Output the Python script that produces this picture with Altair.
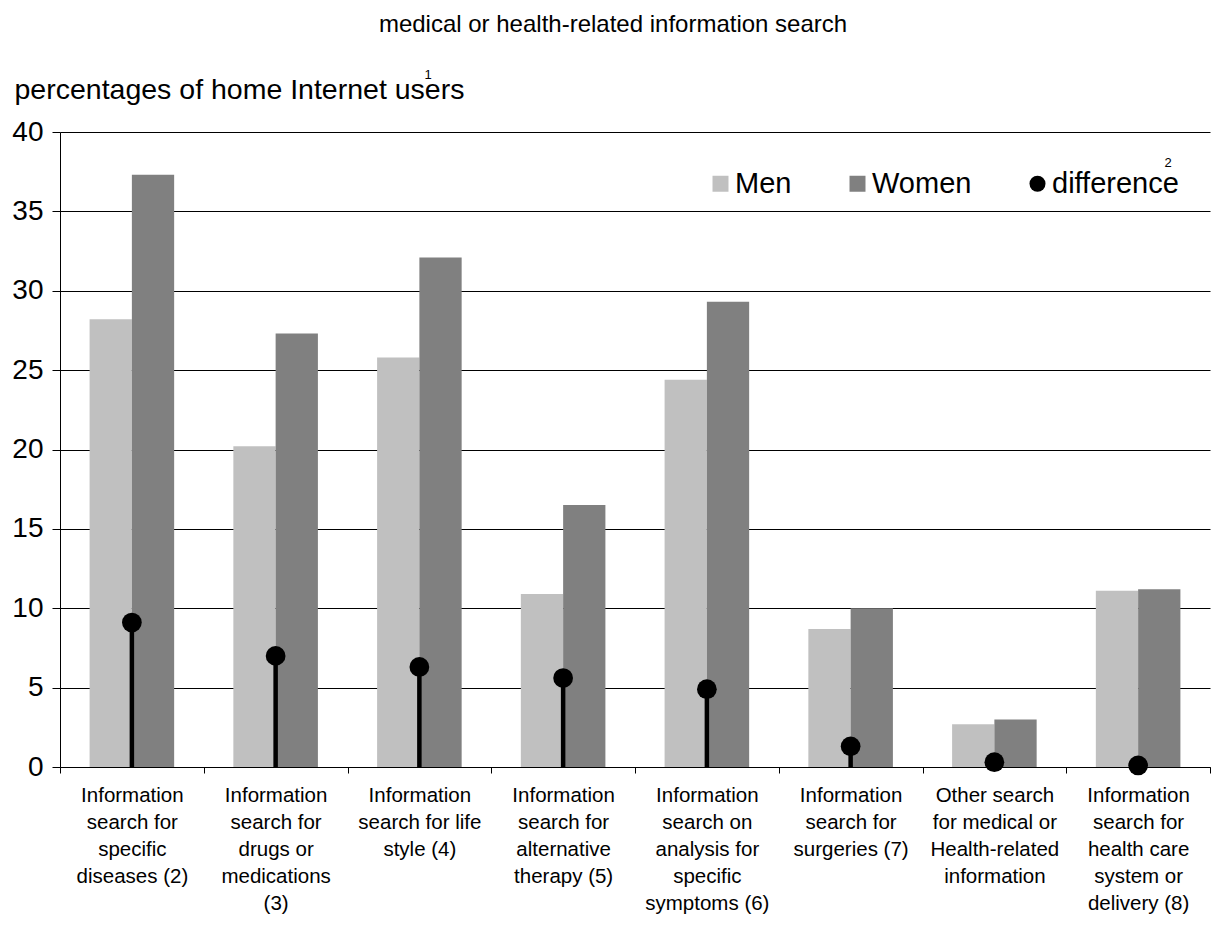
import altair as alt
import pandas as pd

categories = [
    "Information|search for|specific|diseases (2)",
    "Information|search for|drugs or|medications|(3)",
    "Information|search for life|style (4)",
    "Information|search for|alternative|therapy (5)",
    "Information|search on|analysis for|specific|symptoms (6)",
    "Information|search for|surgeries (7)",
    "Other search|for medical or|Health-related|information",
    "Information|search for|health care|system or|delivery (8)",
]
men = [28.2, 20.2, 25.8, 10.9, 24.4, 8.7, 2.7, 11.1]
women = [37.3, 27.3, 32.1, 16.5, 29.3, 10.0, 3.0, 11.2]
difference = [9.1, 7.0, 6.3, 5.6, 4.9, 1.3, 0.3, 0.1]
series = ["Men", "Women", "difference"]
colors = ["#c0c0c0", "#808080", "#000000"]
shapes = ["square", "square", "circle"]
y_ticks = [0, 5, 10, 15, 20, 25, 30, 35, 40]

FONT = "Liberation Sans"

bars_df = pd.DataFrame(
    [{"cat": c, "series": "Men", "value": v} for c, v in zip(categories, men)]
    + [{"cat": c, "series": "Women", "value": v} for c, v in zip(categories, women)]
)
diff_df = pd.DataFrame({"cat": categories, "series": "difference", "value": difference})

x_enc = alt.X(
    "cat:N",
    sort=categories,
    scale=alt.Scale(domain=categories, paddingInner=0, paddingOuter=0),
    axis=alt.Axis(
        title=None,
        labelExpr="split(datum.label, '|')",
        labelAngle=0,
        labelFontSize=20.5,
        labelLineHeight=27,
        labelPadding=12,
        labelColor="#000000",
        labelFont=FONT,
        labelLimit=0,
        labelOverlap=False,
        tickBand="extent",
        tickColor="#000000",
        tickSize=6,
        domainColor="#000000",
        grid=False,
    ),
)

color_scale = alt.Scale(domain=series, range=colors)

legend = alt.Legend(
    title=None,
    orient="none",
    legendX=646,
    legendY=37,
    direction="horizontal",
    labelFontSize=29,
    labelFont=FONT,
    labelColor="#000000",
    symbolSize=256,
    symbolStrokeWidth=0,
    symbolOpacity=1,
    columnPadding=51,
    labelOffset=0,
)

bars = alt.Chart(bars_df).mark_bar().encode(
    x=x_enc,
    xOffset=alt.XOffset(
        "series:N",
        scale=alt.Scale(domain=["Men", "Women"], paddingInner=0, paddingOuter=0.7),
    ),
    y=alt.Y(
        "value:Q",
        scale=alt.Scale(domain=[0, 40], nice=False),
        axis=alt.Axis(
            values=y_ticks,
            title="percentages of home Internet users",
            titleAngle=0,
            titleAlign="left",
            titleBaseline="alphabetic",
            titleX=-46,
            titleY=-34,
            titleFontSize=28.5,
            titleFontWeight="normal",
            titleFont=FONT,
            titleColor="#000000",
            labelFontSize=28,
            labelFont=FONT,
            labelColor="#000000",
            labelPadding=9,
            tickSize=8,
            tickColor="#000000",
            domainColor="#000000",
            gridColor="#000000",
            gridWidth=1,
        ),
    ),
    color=alt.Color("series:N", scale=color_scale, legend=legend),
)

stems = alt.Chart(diff_df).mark_rule(color="#000000", strokeWidth=4.5).encode(
    x=alt.X("cat:N", sort=categories),
    y=alt.Y("value:Q"),
    y2=alt.datum(0),
)

dots = alt.Chart(diff_df).mark_point(filled=True, opacity=1, size=390).encode(
    x=alt.X("cat:N", sort=categories),
    y=alt.Y("value:Q"),
    color=alt.Color("series:N", scale=color_scale, legend=legend),
    shape=alt.Shape("series:N", scale=alt.Scale(domain=series, range=shapes), legend=legend),
)

sup1 = alt.Chart(alt.Data(values=[{"t": "1"}])).mark_text(
    fontSize=13, font=FONT, color="#000000"
).encode(x=alt.value(368), y=alt.value(-57), text="t:N")

sup2 = alt.Chart(alt.Data(values=[{"t": "2"}])).mark_text(
    fontSize=13, font=FONT, color="#000000"
).encode(x=alt.value(1108), y=alt.value(31), text="t:N")

chart = (
    alt.layer(bars, stems, dots, sup1, sup2)
    .properties(
        width=1150,
        height=635,
        autosize=alt.AutoSizeParams(type="none"),
        padding={"left": 52, "top": 124, "right": 1, "bottom": 152},
        title=alt.Title(
            "medical or health-related information search",
            fontSize=24,
            fontWeight="normal",
            font=FONT,
            color="#000000",
            anchor="middle",
            offset=32,
            dx=-22,
        ),
    )
    .configure_view(stroke=None)
)

chart.save("out.html", embed_options={"renderer": "svg", "actions": False})
